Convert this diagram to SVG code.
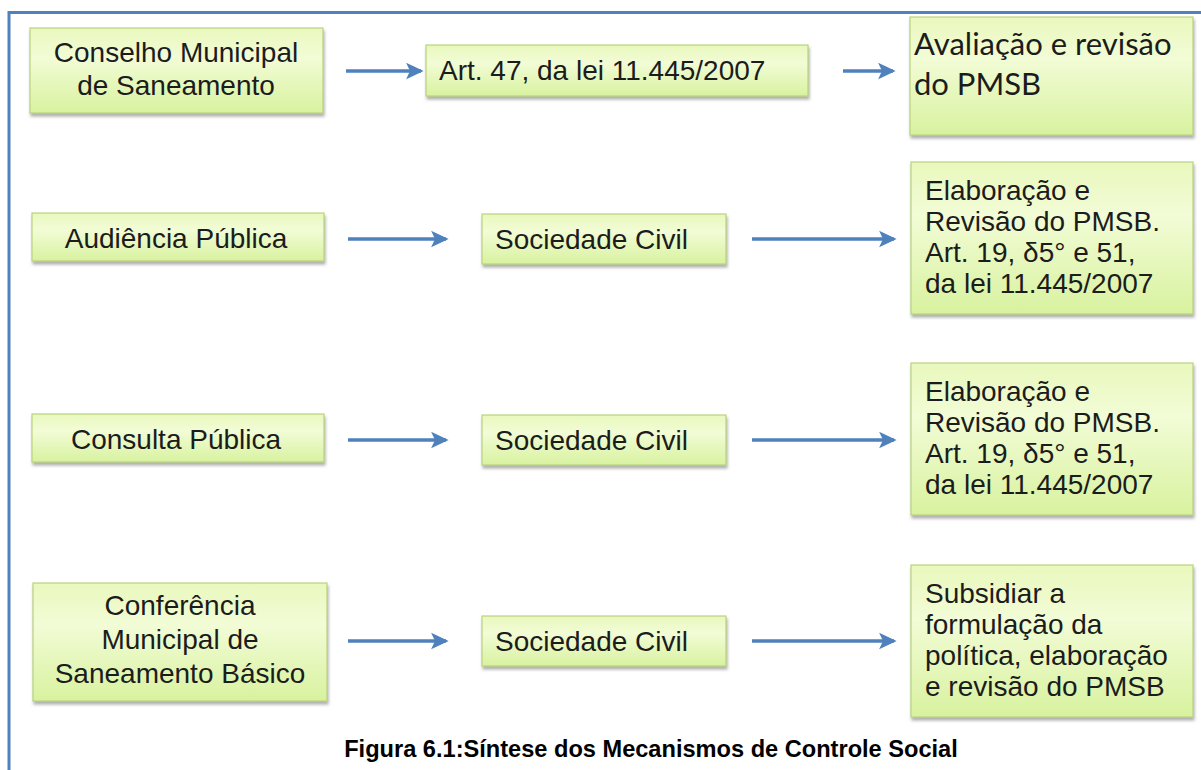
<svg xmlns="http://www.w3.org/2000/svg" width="1201" height="770" viewBox="0 0 1201 770">
<style>
.box{fill:url(#g);stroke:#b9d37e;stroke-width:1.2;filter:url(#sh)}
.t{font-family:"Liberation Sans",Arial,sans-serif;font-size:28px;fill:#1c1c1c}
.c{text-anchor:middle}
.cal{font-family:Lato,"Liberation Sans",sans-serif;font-size:31px;fill:#1c1c1c}
.ar{stroke:#4f81bd;stroke-width:3.5;fill:none;marker-end:url(#ah)}
.frame{stroke:#4f81bd;stroke-width:3;fill:none}
.cap{font-family:"Liberation Sans",Arial,sans-serif;font-size:23.6px;font-weight:bold;fill:#000;text-anchor:middle}
</style>
<defs>
<linearGradient id="g" x1="0" y1="0" x2="0" y2="1">
<stop offset="0" stop-color="#e9f8bd"/>
<stop offset="0.35" stop-color="#f2fcd6"/>
<stop offset="1" stop-color="#d8f29f"/>
</linearGradient>
<filter id="sh" x="-5%" y="-10%" width="115%" height="130%">
<feDropShadow dx="1" dy="3" stdDeviation="1.8" flood-color="#6e6e6e" flood-opacity="0.55"/>
</filter>
<marker id="ah" viewBox="0 0 10 10" refX="8.5" refY="5" markerWidth="5" markerHeight="5" orient="auto" markerUnits="strokeWidth">
<path d="M0,0.3 L10,5 L0,9.7 L2.2,5 z" fill="#4f81bd"/>
</marker>
</defs>
<rect width="1201" height="770" fill="#fff"/>
<path class="frame" d="M9,770 V12.5 H1201"/>

<g id="connectors">
<line class="ar" x1="346" y1="71" x2="421" y2="71"/>
<line class="ar" x1="843" y1="71" x2="893" y2="71"/>
<line class="ar" x1="348" y1="239" x2="446" y2="239"/>
<line class="ar" x1="752" y1="239" x2="894" y2="239"/>
<line class="ar" x1="348" y1="440" x2="446" y2="440"/>
<line class="ar" x1="752" y1="440" x2="894" y2="440"/>
<line class="ar" x1="348" y1="641" x2="446" y2="641"/>
<line class="ar" x1="752" y1="641" x2="894" y2="641"/>
</g>

<g id="conselho">
<rect class="box" x="30" y="28" width="293" height="85"/>
<text class="t c" x="176" y="62">Conselho Municipal</text>
<text class="t c" x="176" y="95">de Saneamento</text>
</g>
<g id="art47">
<rect class="box" x="426" y="45" width="382" height="51"/>
<text class="t" x="439" y="80">Art. 47, da lei 11.445/2007</text>
</g>
<g id="avaliacao">
<rect class="box" x="910" y="17" width="283" height="118"/>
<text class="cal" x="914" y="55">Avaliação e revisão</text>
<text class="cal" x="914" y="95">do PMSB</text>
</g>

<g id="audiencia">
<rect class="box" x="32" y="213" width="292" height="48"/>
<text class="t c" x="176" y="248">Audiência Pública</text>
</g>
<g id="sociedade1">
<rect class="box" x="482" y="214" width="244" height="50"/>
<text class="t" x="495" y="249">Sociedade Civil</text>
</g>
<g id="elaboracao1">
<rect class="box" x="911" y="162" width="282" height="152"/>
<text class="t" x="925" y="200">Elaboração e</text>
<text class="t" x="925" y="231">Revisão do PMSB.</text>
<text class="t" x="925" y="262">Art. 19, δ5° e 51,</text>
<text class="t" x="925" y="293">da lei 11.445/2007</text>
</g>

<g id="consulta">
<rect class="box" x="32" y="414" width="292" height="48"/>
<text class="t c" x="176" y="449">Consulta Pública</text>
</g>
<g id="sociedade2">
<rect class="box" x="482" y="415" width="244" height="50"/>
<text class="t" x="495" y="450">Sociedade Civil</text>
</g>
<g id="elaboracao2">
<rect class="box" x="911" y="363" width="282" height="152"/>
<text class="t" x="925" y="401">Elaboração e</text>
<text class="t" x="925" y="432">Revisão do PMSB.</text>
<text class="t" x="925" y="463">Art. 19, δ5° e 51,</text>
<text class="t" x="925" y="494">da lei 11.445/2007</text>
</g>

<g id="conferencia">
<rect class="box" x="33" y="583" width="294" height="118"/>
<text class="t c" x="180" y="615">Conferência</text>
<text class="t c" x="180" y="649">Municipal de</text>
<text class="t c" x="180" y="683">Saneamento Básico</text>
</g>
<g id="sociedade3">
<rect class="box" x="482" y="616" width="244" height="50"/>
<text class="t" x="495" y="651">Sociedade Civil</text>
</g>
<g id="subsidiar">
<rect class="box" x="911" y="565" width="282" height="152"/>
<text class="t" x="925" y="603">Subsidiar a</text>
<text class="t" x="925" y="634">formulação da</text>
<text class="t" x="925" y="665">política, elaboração</text>
<text class="t" x="925" y="696">e revisão do PMSB</text>
</g>

<text class="cap" x="651" y="757">Figura 6.1:Síntese dos Mecanismos de Controle Social</text>
</svg>
